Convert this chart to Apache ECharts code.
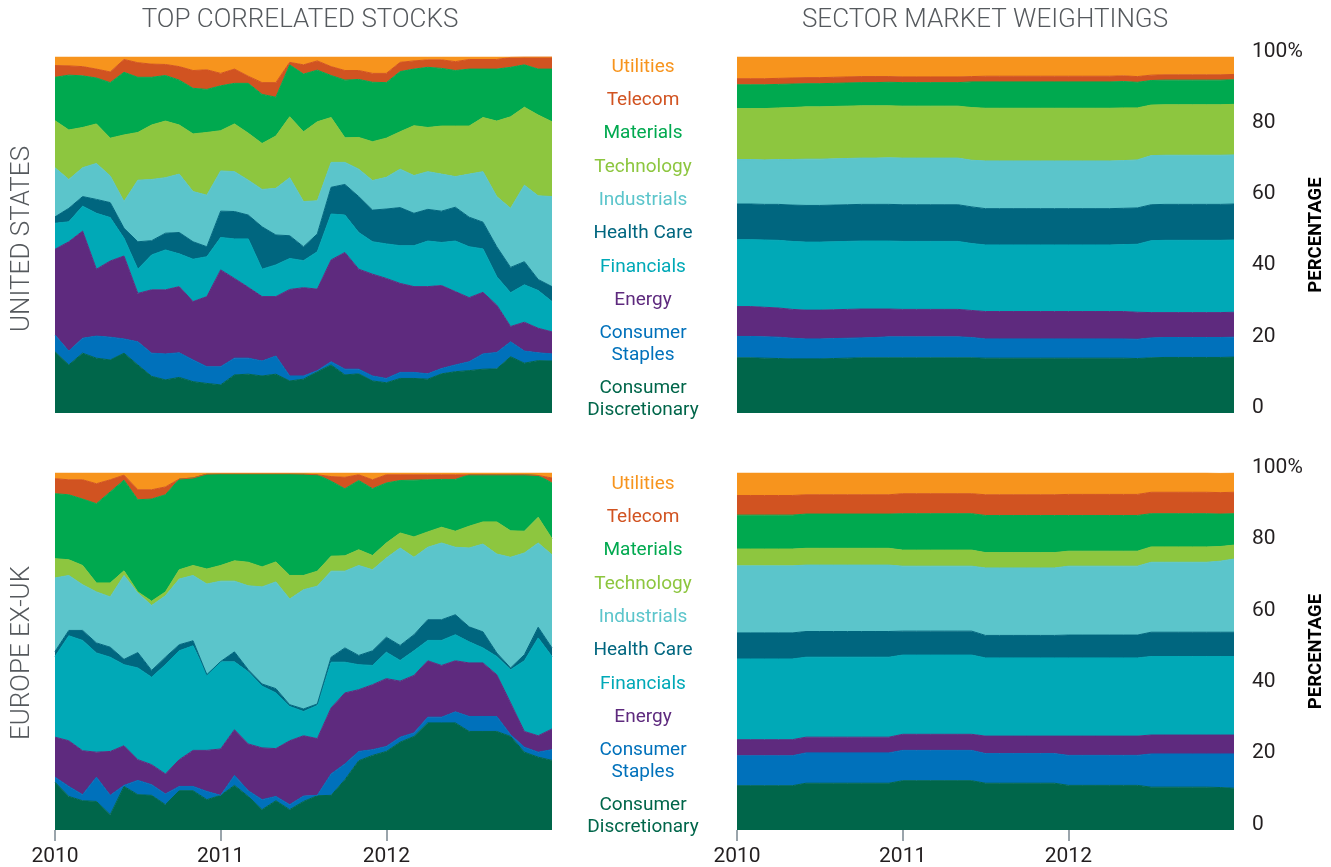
<!DOCTYPE html>
<html>
<head>
<meta charset="utf-8">
<script src="https://cdn.jsdelivr.net/npm/echarts@6/dist/echarts.min.js"></script>
<style>
html,body{margin:0;padding:0;background:#ffffff;}
#chart{width:1331px;height:867px;}
</style>
</head>
<body>
<div id="chart"></div>
<script>
// ---------- categories / labels ----------
const sectors = ['Consumer Discretionary','Consumer Staples','Energy','Financials','Health Care','Industrials','Technology','Materials','Telecom','Utilities'];
const sectorColors = ['#00664A','#0071BB','#5E2A7E','#00A9B7','#00667F','#5BC5CB','#8DC63F','#00A94F','#D15321','#F7941D'];
const yearLabels = ['2010','2011','2012'];
const yTickLabels = ['0','20','40','60','80','100%'];
const panelTitles = ['TOP CORRELATED STOCKS','SECTOR MARKET WEIGHTINGS'];
const regionLabels = ['UNITED STATES','EUROPE EX-UK'];
const months = [];
for (let y = 2010; y <= 2012; y++) for (let m = 1; m <= 12; m++) months.push(y + '-' + (m < 10 ? '0' + m : m));
months.push('2013-01');

// ---------- United States: top correlated stocks (% of stocks) ----------
const usCorrCD = [17.2,13.5,16.8,15.4,14.9,16.8,13.5,10.3,9.3,10.0,8.8,8.3,7.9,10.7,10.9,10.4,10.9,9.0,9.5,11.6,13.5,10.7,11.0,9.0,8.5,9.7,9.7,9.5,11.0,11.6,11.9,12.3,12.4,15.8,14.0,14.7,14.6];
const usCorrCS = [4.7,3.9,4.2,6.2,6.4,4.0,6.5,6.5,7.3,6.9,6.1,4.7,5.1,4.7,4.5,4.2,5.1,1.4,0.9,0.3,0.9,1.6,1.3,1.4,1.2,1.7,1.7,1.5,1.5,1.9,2.5,4.3,4.6,4.2,3.4,2.2,2.0];
const usCorrEN = [24.1,30.7,30.1,18.8,21.4,23.3,13.6,17.8,18.0,18.6,16.4,19.7,27.2,22.4,19.9,18.1,16.7,24.3,24.8,22.9,28.6,32.8,28.1,28.6,28.1,25.0,24.1,24.5,23.3,20.6,18.0,17.3,13.3,4.3,8.1,6.9,6.2];
const usCorrFI = [7.3,5.6,7.0,15.7,12.2,5.0,6.8,9.8,11.2,9.2,11.9,11.2,9.1,11.1,13.6,7.7,8.9,8.7,7.6,10.5,12.9,10.5,10.3,9.1,9.7,10.6,11.5,12.8,12.1,14.2,14.3,12.2,8.0,9.5,10.5,10.6,8.5];
const usCorrHC = [1.8,3.8,2.7,3.9,4.2,2.8,7.7,4.0,4.7,6.0,4.9,2.8,7.4,7.7,6.7,11.9,8.4,6.4,3.9,5.0,7.5,8.6,10.1,8.9,9.8,10.7,9.1,8.9,8.8,9.5,8.3,7.5,8.4,7.1,6.5,3.1,4.2];
const usCorrIN = [13.8,8.1,8.1,10.1,7.5,7.5,17.3,17.2,15.6,16.4,14.1,14.5,11.3,11.2,9.8,10.5,13.1,16.3,12.7,9.3,7.0,6.2,7.7,8.3,8.9,10.8,10.6,10.6,10.4,8.6,12.1,14.2,14.1,16.6,21.5,23.5,25.3];
const usCorrTE = [13.2,13.9,11.3,11.1,10.6,18.7,13.4,15.3,15.9,13.8,16.2,17.6,11.3,13.4,13.2,12.9,14.7,17.1,19.6,22.2,12.6,6.9,8.9,10.9,11.0,10.5,14.0,12.4,13.5,14.2,13.5,15.2,21.2,25.7,21.9,22.7,21.0];
const usCorrMA = [12.2,15.4,14.5,12.9,15.6,17.6,15.5,13.4,12.8,12.6,12.8,12.1,12.6,11.4,14.0,13.8,10.9,14.6,16.2,14.5,11.8,16.2,16.3,16.7,15.6,16.9,15.9,16.9,16.2,15.6,16.0,13.6,14.6,13.9,11.9,12.9,14.8];
const usCorrTC = [3.3,2.6,2.6,2.5,3.0,3.6,4.1,3.7,3.1,3.8,5.0,5.5,3.5,4.0,2.0,3.3,4.1,0.7,2.6,2.6,2.5,2.7,2.5,2.5,2.6,2.6,2.3,2.1,2.4,2.5,2.7,2.7,2.7,2.8,2.2,3.4,3.4];
const usCorrUT = [2.4,2.5,2.7,3.4,4.2,0.7,1.6,2.0,2.1,2.7,3.8,3.6,4.6,3.4,5.4,7.2,7.2,1.5,2.2,1.1,2.7,3.8,3.8,4.6,4.6,1.5,1.1,0.8,0.8,1.3,0.7,0.7,0.7,0.1,0.0,0.0,0.0];

// ---------- United States: sector market weightings (%) ----------
const usSecCD = [15.5,15.5,15.4,15.3,15.2,15.2,15.2,15.3,15.4,15.5,15.5,15.5,15.5,15.5,15.5,15.5,15.5,15.5,15.4,15.4,15.4,15.4,15.4,15.4,15.4,15.4,15.4,15.4,15.4,15.3,15.5,15.6,15.6,15.6,15.6,15.6,15.7];
const usSecCS = [6.0,6.0,6.0,6.0,5.8,5.6,5.6,5.6,5.6,5.6,5.7,5.9,5.9,5.9,5.9,5.9,5.9,5.7,5.4,5.4,5.4,5.4,5.4,5.4,5.4,5.4,5.4,5.4,5.4,5.4,5.6,5.6,5.6,5.6,5.6,5.6,5.6];
const usSecEN = [8.4,8.4,8.3,8.2,8.1,8.1,8.1,8.1,8.1,8.1,8.0,7.8,7.7,7.7,7.7,7.7,7.7,7.6,7.7,7.7,7.7,7.7,7.7,7.7,7.7,7.7,7.7,7.7,7.7,7.6,7.1,7.0,7.0,7.0,7.0,7.0,7.0];
const usSecFI = [18.8,18.8,18.9,19.0,19.1,19.1,19.1,19.1,19.1,19.1,19.1,19.1,19.1,19.1,19.1,19.1,19.1,18.8,18.7,18.7,18.7,18.7,18.7,18.7,18.7,18.7,18.7,18.7,18.8,19.1,20.2,20.3,20.3,20.3,20.3,20.3,20.3];
const usSecHC = [10.0,10.0,10.0,10.1,10.2,10.3,10.3,10.3,10.3,10.3,10.3,10.3,10.3,10.3,10.3,10.3,10.3,10.3,10.2,10.2,10.2,10.2,10.2,10.2,10.2,10.2,10.2,10.2,10.2,10.2,10.1,10.1,10.1,10.1,10.1,10.1,10.1];
const usSecIN = [12.5,12.5,12.5,12.6,12.8,13.0,13.0,13.0,13.0,13.0,13.0,13.1,13.1,13.1,13.1,13.1,13.1,13.1,13.4,13.4,13.4,13.4,13.4,13.4,13.4,13.4,13.4,13.4,13.4,13.5,13.8,13.8,13.8,13.8,13.8,13.8,13.8];
const usSecTE = [14.3,14.3,14.4,14.5,14.6,14.7,14.7,14.7,14.7,14.7,14.7,14.6,14.6,14.6,14.6,14.6,14.6,14.8,14.8,14.8,14.8,14.8,14.8,14.8,14.8,14.8,14.8,14.8,14.8,14.6,14.2,14.2,14.2,14.2,14.2,14.2,14.2];
const usSecMA = [6.7,6.7,6.7,6.6,6.6,6.5,6.5,6.5,6.5,6.5,6.5,6.6,6.6,6.6,6.6,6.6,6.6,7.2,7.4,7.4,7.4,7.4,7.4,7.4,7.4,7.4,7.4,7.4,7.4,7.2,6.9,6.9,6.9,6.9,6.9,6.9,6.9];
const usSecTC = [1.7,1.7,1.7,1.7,1.7,1.7,1.7,1.7,1.7,1.7,1.7,1.6,1.6,1.6,1.6,1.6,1.6,1.5,1.6,1.6,1.6,1.6,1.6,1.6,1.6,1.6,1.6,1.6,1.6,1.6,1.5,1.5,1.5,1.5,1.5,1.5,1.5];
const usSecUT = [6.1,6.1,6.1,6.0,5.9,5.8,5.8,5.7,5.6,5.5,5.5,5.5,5.6,5.6,5.6,5.6,5.6,5.5,5.4,5.4,5.4,5.4,5.4,5.4,5.4,5.4,5.4,5.4,5.3,5.5,5.1,5.0,5.0,5.0,5.0,5.0,4.9];

// ---------- Europe ex-UK: top correlated stocks (% of stocks) ----------
const euCorrCD = [13.4,9.4,8.2,8.0,4.3,12.2,9.9,9.7,7.1,11.0,11.0,8.5,9.7,12.5,9.4,5.7,8.2,5.7,8.0,9.6,9.7,14.1,19.4,20.9,22.0,24.6,26.2,30.0,30.0,30.0,27.6,27.6,27.6,26.2,21.8,20.4,19.5];
const euCorrCS = [1.4,2.8,1.7,6.8,5.4,0.3,4.0,3.0,3.0,1.2,1.2,2.3,0.0,2.8,1.6,2.8,1.2,1.4,1.5,0.1,6.0,4.4,2.6,1.6,1.4,1.4,1.0,1.6,1.6,3.1,4.2,4.2,4.2,0.5,1.4,1.4,3.0];
const euCorrEN = [11.2,12.8,12.3,7.0,12.3,11.1,5.8,5.6,5.6,7.5,10.1,11.5,13.0,12.8,13.1,14.5,13.4,17.9,16.9,15.9,18.5,19.9,17.3,18.2,19.0,15.7,16.1,15.8,14.5,14.3,15.0,15.0,11.7,8.9,4.4,4.6,5.8];
const euCorrFI = [22.6,29.4,30.9,27.8,26.4,22.7,25.7,24.5,30.6,30.5,29.3,21.2,24.4,19.0,20.2,17.3,15.6,9.6,6.8,9.3,12.8,8.6,7.0,5.4,7.4,5.8,6.9,5.7,7.0,7.3,5.9,4.2,5.1,9.3,19.8,27.4,20.3];
const euCorrHC = [1.4,1.5,2.8,2.8,2.8,1.5,4.3,1.9,2.1,1.7,1.4,0.0,0.1,2.8,0.6,0.6,1.2,0.5,0.7,0.4,1.4,4.0,2.6,4.1,4.2,4.2,4.5,5.8,5.8,5.6,4.2,4.5,1.0,0.5,1.7,3.0,2.4];
const euCorrIN = [20.6,15.4,12.8,14.3,14.1,23.5,16.7,18.2,17.2,18.4,18.3,25.4,22.5,19.8,23.5,27.2,29.9,29.6,33.4,33.0,24.1,21.5,25.2,22.7,22.2,27.3,21.7,20.3,21.5,18.9,22.1,24.6,27.7,31.0,28.5,23.6,26.1];
const euCorrTE = [5.4,4.4,5.4,2.5,3.9,1.3,0.3,1.2,1.1,2.6,2.8,4.2,4.4,5.7,6.6,5.6,5.6,6.6,4.0,4.2,4.2,4.3,4.4,4.0,4.2,4.2,5.7,4.3,4.4,4.5,6.1,6.2,9.0,7.4,6.1,7.2,4.5];
const euCorrMA = [18.2,18.2,18.6,22.2,25.5,25.4,25.8,28.6,27.2,25.4,24.5,26.6,25.7,24.4,24.8,26.1,24.7,28.5,28.4,27.0,21.0,18.8,19.4,18.7,16.8,14.7,15.9,14.6,13.4,14.5,14.4,13.2,13.2,15.7,15.8,11.7,15.6];
const euCorrTC = [4.2,4.2,5.4,5.6,3.4,1.4,2.8,2.6,2.2,0.0,0.0,0.0,0.0,0.0,0.0,0.0,0.0,0.0,0.0,0.0,1.3,3.2,1.6,2.5,2.3,1.6,1.5,1.4,1.3,1.3,0.0,0.0,0.0,0.0,0.0,0.0,1.4];
const euCorrUT = [1.6,1.9,1.9,3.0,1.9,0.6,4.7,4.7,3.9,1.7,1.4,0.3,0.2,0.2,0.2,0.2,0.2,0.2,0.3,0.5,1.0,1.2,0.5,1.9,0.5,0.5,0.5,0.5,0.5,0.5,0.5,0.5,0.5,0.5,0.5,0.7,1.4];

// ---------- Europe ex-UK: sector market weightings (%) ----------
const euSecCD = [12.4,12.4,12.4,12.4,12.4,13.1,13.1,13.1,13.1,13.1,13.1,13.1,13.8,13.8,13.8,13.8,13.8,13.8,13.1,13.1,13.1,13.1,13.1,13.1,12.5,12.5,12.5,12.5,12.5,12.5,12.0,12.0,12.0,12.0,12.0,11.9,11.7];
const euSecCS = [8.4,8.4,8.4,8.4,8.4,8.5,8.5,8.5,8.5,8.5,8.5,8.5,8.5,8.5,8.5,8.5,8.5,8.5,8.3,8.3,8.3,8.3,8.3,8.3,8.4,8.4,8.4,8.4,8.4,8.4,9.3,9.3,9.3,9.3,9.3,9.4,9.6];
const euSecEN = [4.5,4.5,4.5,4.5,4.5,4.4,4.4,4.4,4.4,4.4,4.4,4.4,4.5,4.5,4.5,4.5,4.5,4.5,4.9,4.9,4.9,4.9,4.9,4.9,5.4,5.4,5.4,5.4,5.4,5.4,5.3,5.3,5.3,5.3,5.3,5.3,5.3];
const euSecFI = [22.6,22.6,22.6,22.6,22.6,22.4,22.4,22.4,22.4,22.4,22.4,22.4,22.2,22.2,22.2,22.2,22.2,22.2,21.9,21.9,21.9,21.9,21.9,21.9,21.9,21.9,21.9,21.9,21.9,21.9,22.0,22.0,22.0,22.0,22.0,22.0,22.0];
const euSecHC = [7.3,7.3,7.3,7.3,7.3,7.2,7.2,7.2,7.2,7.2,7.2,7.2,6.7,6.7,6.7,6.7,6.7,6.7,6.3,6.3,6.3,6.3,6.3,6.3,6.4,6.4,6.4,6.4,6.4,6.4,6.8,6.8,6.8,6.8,6.8,6.8,6.8];
const euSecIN = [18.8,18.8,18.8,18.8,18.8,18.6,18.6,18.6,18.6,18.6,18.6,18.6,18.2,18.2,18.2,18.2,18.2,18.2,18.9,18.9,18.9,18.9,18.9,18.9,19.3,19.3,19.3,19.3,19.3,19.3,19.6,19.6,19.6,19.6,19.6,19.9,20.5];
const euSecTE = [4.7,4.7,4.7,4.7,4.7,4.7,4.7,4.7,4.7,4.7,4.7,4.7,4.5,4.5,4.5,4.5,4.5,4.5,4.3,4.3,4.3,4.3,4.3,4.3,4.2,4.2,4.2,4.2,4.2,4.2,4.3,4.3,4.3,4.3,4.3,4.1,3.9];
const euSecMA = [9.5,9.5,9.5,9.5,9.5,9.6,9.6,9.6,9.6,9.6,9.6,9.6,10.2,10.2,10.2,10.2,10.2,10.2,10.4,10.4,10.4,10.4,10.4,10.4,10.0,10.0,10.0,10.0,10.0,10.0,9.3,9.3,9.3,9.3,9.3,9.1,8.8];
const euSecTC = [5.5,5.5,5.5,5.5,5.5,5.4,5.4,5.4,5.4,5.4,5.4,5.4,5.6,5.6,5.6,5.6,5.6,5.6,5.8,5.8,5.8,5.8,5.8,5.8,5.9,5.9,5.9,5.9,5.9,5.9,6.0,6.0,6.0,6.0,6.0,6.0,6.0];
const euSecUT = [6.3,6.3,6.3,6.3,6.3,6.1,6.1,6.1,6.1,6.1,6.1,6.1,5.8,5.8,5.8,5.8,5.8,5.8,6.1,6.1,6.1,6.1,6.1,6.1,6.0,6.0,6.0,6.0,6.0,6.0,5.4,5.4,5.4,5.4,5.4,5.4,5.4];

// ---------- chart ----------
const panels = [
  {grid: 0, stack: 'usCorr', data: [usCorrCD,usCorrCS,usCorrEN,usCorrFI,usCorrHC,usCorrIN,usCorrTE,usCorrMA,usCorrTC,usCorrUT]},
  {grid: 1, stack: 'usSec',  data: [usSecCD,usSecCS,usSecEN,usSecFI,usSecHC,usSecIN,usSecTE,usSecMA,usSecTC,usSecUT]},
  {grid: 2, stack: 'euCorr', data: [euCorrCD,euCorrCS,euCorrEN,euCorrFI,euCorrHC,euCorrIN,euCorrTE,euCorrMA,euCorrTC,euCorrUT]},
  {grid: 3, stack: 'euSec',  data: [euSecCD,euSecCS,euSecEN,euSecFI,euSecHC,euSecIN,euSecTE,euSecMA,euSecTC,euSecUT]}
];

const FONT = 'Roboto, "Noto Sans", sans-serif';
const grids = [
  {left: 55,  top: 57,  width: 497, height: 356},
  {left: 737, top: 57,  width: 497, height: 356},
  {left: 55,  top: 473, width: 497, height: 357},
  {left: 737, top: 473, width: 497, height: 357}
];

const yearTick = (idx) => idx % 12 === 0 && idx < 36;

const xAxes = grids.map((g, i) => {
  const bottom = i >= 2;
  return {
    type: 'category', gridIndex: i, data: months, boundaryGap: false,
    show: bottom,
    axisLine: {show: false},
    axisTick: {show: true, interval: yearTick, length: 11, lineStyle: {color: '#7a8690', width: 1.5}},
    axisLabel: {
      interval: yearTick, margin: 16, fontSize: 21, color: '#231f20', fontFamily: FONT,
      formatter: (v, idx) => yearLabels[Math.round(idx / 12)]
    },
    splitLine: {show: false}
  };
});

const yAxes = grids.map((g, i) => {
  const right = i % 2 === 1;
  return {
    type: 'value', gridIndex: i, min: 0, max: 100, interval: 20,
    show: right, position: 'right',
    axisLine: {show: false}, axisTick: {show: false}, splitLine: {show: false},
    axisLabel: {
      margin: 18, fontSize: 21, color: '#231f20', fontFamily: FONT,
      verticalAlign: 'bottom', lineHeight: 11,
      formatter: (v) => yTickLabels[Math.round(v / 20)]
    },
    name: 'PERCENTAGE', nameLocation: 'middle', nameRotate: 90, nameGap: 70,
    nameTextStyle: {fontSize: 18.5, fontWeight: 'bold', color: '#000', fontFamily: FONT}
  };
});

const series = [];
panels.forEach((p) => {
  sectors.forEach((name, k) => {
    series.push({
      name: name, type: 'line', xAxisIndex: p.grid, yAxisIndex: p.grid, stack: p.stack,
      data: p.data[k], symbol: 'none', showSymbol: false, smooth: false,
      lineStyle: {width: 1, color: sectorColors[k]},
      itemStyle: {color: sectorColors[k]},
      areaStyle: {color: sectorColors[k], opacity: 1},
      emphasis: {disabled: true}, silent: true
    });
  });
});

function makeLegend(top) {
  const order = sectors.slice().reverse();
  return {
    orient: 'vertical', left: 568, top: top, padding: 0,
    itemWidth: 0, itemHeight: 22, itemGap: 11.3, icon: 'none', selectedMode: false,
    data: order.map((n) => ({name: n, textStyle: {color: sectorColors[sectors.indexOf(n)]}})),
    formatter: (n) => n.indexOf('Consumer ') === 0
      ? '{a|Consumer}\n{a|' + n.slice(9) + '}'
      : '{a|' + n + '}',
    textStyle: {
      fontFamily: FONT, fontSize: 19, lineHeight: 22,
      rich: {a: {width: 140, align: 'center', fontSize: 19, lineHeight: 22, fontFamily: FONT}}
    }
  };
}

const titleStyle = {font: '300 26px Roboto', fill: '#55595d', align: 'center', verticalAlign: 'middle'};
const graphic = [
  {type: 'text', x: 300, y: 20, style: Object.assign({text: panelTitles[0]}, titleStyle)},
  {type: 'text', x: 985, y: 20, style: Object.assign({text: panelTitles[1]}, titleStyle)},
  {type: 'text', x: 22, y: 239, rotation: Math.PI / 2, style: Object.assign({text: regionLabels[0]}, titleStyle)},
  {type: 'text', x: 22, y: 653, rotation: Math.PI / 2, style: Object.assign({text: regionLabels[1]}, titleStyle)}
];

const chart = echarts.init(document.getElementById('chart'), null, {renderer: 'canvas'});
chart.setOption({
  animation: false,
  backgroundColor: '#ffffff',
  grid: grids,
  xAxis: xAxes,
  yAxis: yAxes,
  legend: [makeLegend(56), makeLegend(473)],
  graphic: graphic,
  series: series
});
</script>
</body>
</html>
